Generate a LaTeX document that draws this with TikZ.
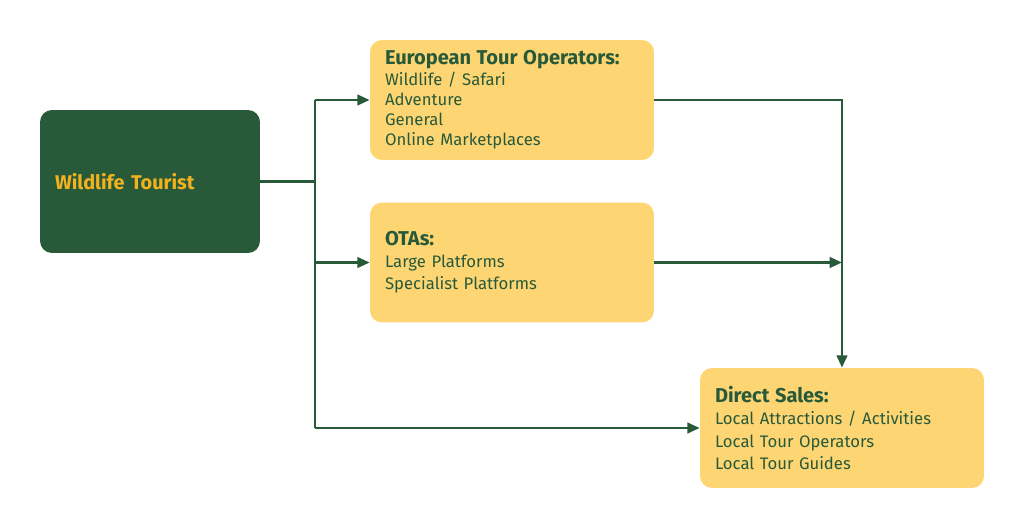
\documentclass[tikz,border=0pt]{standalone}
\usepackage{fontspec}
\setmainfont{Fira Sans}
\usetikzlibrary{arrows.meta, positioning, calc}
\definecolor{chanfill}{RGB}{253, 213, 115}
\definecolor{touristfill}{RGB}{40, 90, 58}
\definecolor{linegreen}{RGB}{40, 90, 58}
\definecolor{goldtext}{RGB}{242, 178, 30}
\tikzset{
  % Kanal qutilari
  chanbox/.style  = {rectangle, rounded corners=0.24cm, fill=chanfill,
                     minimum width=5.68cm, minimum height=2.4cm,
                     text width=5.08cm, inner xsep=0.3cm, align=left,
                     text=linegreen, font=\fontsize{9.5}{12.6}\selectfont},
  % Zich ro'yxat
  tightlist/.style = {font=\fontsize{9.5}{11.5}\selectfont},
  % Turist qutisi
  touristbox/.style = {rectangle, rounded corners=0.24cm, fill=touristfill,
                     minimum width=4.4cm, minimum height=2.86cm,
                     text width=3.8cm, inner xsep=0.3cm, align=left,
                     text=goldtext, font=\bfseries\fontsize{11.3}{13}\selectfont},
  % Ulagichlar
  flowline/.style  = {draw=linegreen, line width=1.4pt},
  flowarrow/.style = {flowline, -{Triangle[length=7pt, width=6pt]}},
}
\newcommand{\chanhead}[1]{{\bfseries\fontsize{11.4}{13}\selectfont #1}}
\begin{document}
\begin{tikzpicture}[x=0.02cm, y=-0.02cm]
  \useasboundingbox (0,0) rectangle (1024,531);
  % Qutilar
  \node[touristbox] (tourist) at (150,181.5) {Wildlife Tourist};
  \node[chanbox, tightlist] (euro) at (512,100)
    {\chanhead{European Tour Operators:}\\
     Wildlife / Safari\\ Adventure\\ General\\ Online Marketplaces};
  \node[chanbox] (ota) at (512,262.5)
    {\chanhead{OTAs:}\\
     Large Platforms\\ Specialist Platforms};
  \node[chanbox] (direct) at (842,428)
    {\chanhead{Direct Sales:}\\
     Local Attractions / Activities\\ Local Tour Operators\\ Local Tour Guides};
  % Tarmoqlanish nuqtalari
  \coordinate (split) at (315,181.5);
  \coordinate (merge) at (842,262.5);
  % Turistdan kanallarga
  \draw[flowline] (tourist.east) -- (split);
  \draw[flowline] (split |- euro.west) -- (split |- direct.west);
  \draw[flowarrow] (split |- euro.west) -- (euro.west);
  \draw[flowarrow] (split |- ota.west) -- (ota.west);
  \draw[flowarrow] (split |- direct.west) -- (direct.west);
  % Kanallardan to'g'ridan-to'g'ri sotuvga
  \draw[flowarrow] (euro.east) -| (direct.north);
  \draw[flowarrow] (ota.east) -- (merge);
\end{tikzpicture}
\end{document}
